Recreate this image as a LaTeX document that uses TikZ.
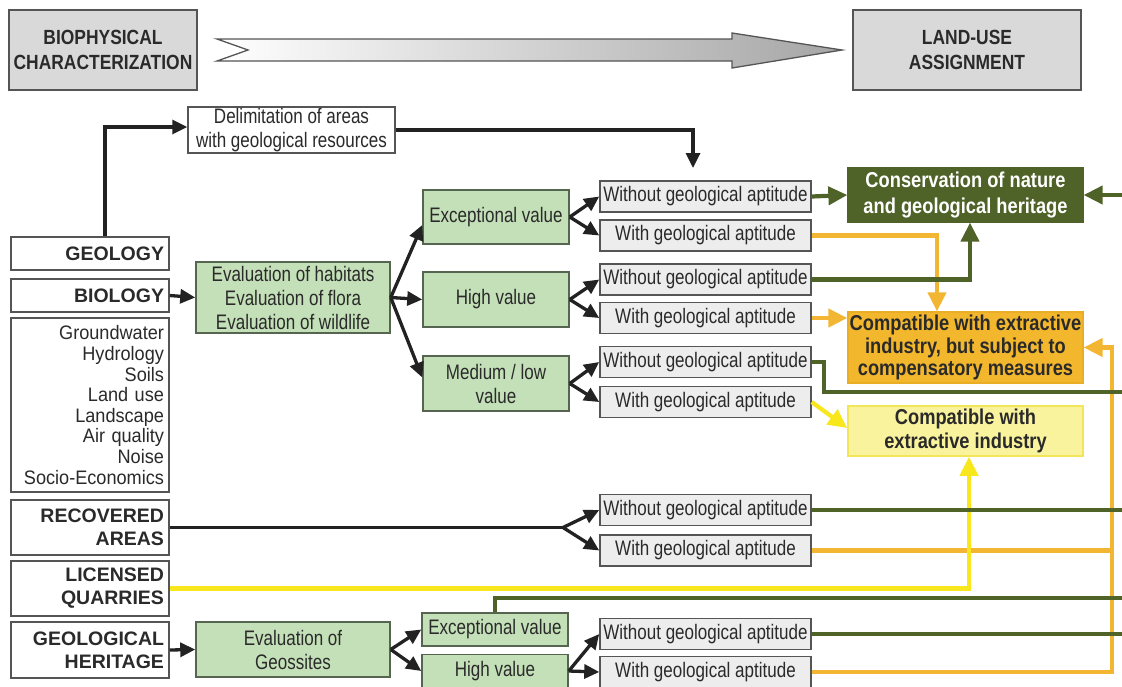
\documentclass[tikz,border=0pt]{standalone}
\usepackage{fontspec}
\setmainfont{Liberation Sans}
\newfontfamily\nar[FakeStretch=0.81]{Liberation Sans}
\newfontfamily\narl[FakeStretch=0.93]{Liberation Sans}
\newfontfamily\narh[FakeStretch=0.85]{Liberation Sans}
\usetikzlibrary{arrows.meta}
\definecolor{txt}{HTML}{2A2A2A}
\definecolor{bordg}{HTML}{555555}
\definecolor{hdrfill}{HTML}{D9D9D9}
\definecolor{grayfill}{HTML}{EDEDED}
\definecolor{grnfill}{HTML}{C4E0B8}
\definecolor{grnbord}{HTML}{55654F}
\definecolor{olive}{HTML}{4F6228}
\definecolor{orng}{HTML}{F3B72E}
\definecolor{orngb}{HTML}{E9AE25}
\definecolor{orngline}{HTML}{F2B632}
\definecolor{paley}{HTML}{FAF39E}
\definecolor{paleyb}{HTML}{F2E55A}
\definecolor{yel}{HTML}{F8E71C}
\definecolor{blk}{HTML}{222222}
\begin{document}
\begin{tikzpicture}[x=1pt,y=-1pt,inner sep=0pt,
  hdr/.style={draw=bordg,line width=1.5pt,fill=hdrfill,text=txt,align=center,
    font=\narh\bfseries\fontsize{20.5}{25}\selectfont},
  wbox/.style={draw=bordg,line width=1.5pt,fill=white,text=txt,align=center,
    font=\nar\fontsize{21}{24}\selectfont},
  lab/.style={draw=bordg,line width=1.5pt,fill=white,text=txt,align=right,
    text width=148pt,inner xsep=5pt,minimum width=158pt,
    font=\bfseries\fontsize{19.5}{23}\selectfont},
  listbox/.style={draw=bordg,line width=1.5pt,fill=white,text=txt,align=right,
    text width=148pt,inner xsep=5pt,minimum width=158pt,
    font=\narl\fontsize{19.5}{20.6}\selectfont},
  gbox/.style={draw=grnbord,line width=1.5pt,fill=grnfill,text=txt,align=center,
    font=\nar\fontsize{21}{24}\selectfont},
  gybox/.style={draw=bordg,line width=1.5pt,fill=grayfill,text=txt,align=center,
    minimum width=211pt,minimum height=31pt,font=\nar\fontsize{21}{24}\selectfont},
  consv/.style={draw=olive,line width=1.3pt,fill=olive,text=white,align=center,
    minimum width=235pt,font=\narh\bfseries\fontsize{21.5}{26}\selectfont},
  orbox/.style={draw=orngb,line width=1.3pt,fill=orng,text=txt,align=center,
    minimum width=235pt,font=\narh\bfseries\fontsize{21.5}{22.5}\selectfont},
  pybox/.style={draw=paleyb,line width=1.5pt,fill=paley,text=txt,align=center,
    minimum width=235pt,font=\narh\bfseries\fontsize{21.5}{24}\selectfont},
  blkarr/.style={draw=blk,line width=3.3pt,-{Triangle[length=15pt,width=14pt]}},
  blkline/.style={draw=blk,line width=3.3pt},
  grnarr/.style={draw=olive,line width=4.2pt,-{Triangle[length=19pt,width=18pt]}},
  grnline/.style={draw=olive,line width=4.2pt},
  orarr/.style={draw=orngline,line width=4.2pt,-{Triangle[length=19pt,width=18pt]}},
  orline/.style={draw=orngline,line width=4.2pt},
  yelarr/.style={draw=yel,line width=4.2pt,-{Triangle[length=19pt,width=18pt]}},
  yelline/.style={draw=yel,line width=4.2pt}]
\useasboundingbox[fill=white] (0,0) rectangle (1122,686);

% header
\node[hdr,minimum width=188pt,minimum height=80pt] (bioc) at (103,50) {BIOPHYSICAL\\CHARACTERIZATION};
\node[hdr,minimum width=228pt,minimum height=80pt] (land) at (967,50) {LAND-USE\\ASSIGNMENT};
\path[draw=bordg,line width=1.3pt,left color=white,right color=gray!70]
  (217,39) -- (732,39) -- (732,33) -- (842,50) -- (732,68) -- (732,61) -- (217,61) -- (248,50) -- cycle;

% left column
\node[wbox,minimum width=207pt,minimum height=46pt] (delim) at (291.5,130) {Delimitation of areas\\with geological resources};
\node[lab,minimum height=33pt] (geology) at (90,253.5) {GEOLOGY};
\node[lab,minimum height=33pt] (biology) at (90,295.5) {BIOLOGY};
\node[listbox,minimum height=174pt] (list) at (90,405) {Groundwater\\Hydrology\\Soils\\Land use\\Landscape\\Air quality\\Noise\\Socio-Economics};
\node[lab,minimum height=55pt] (recovered) at (90,527.5) {RECOVERED\\AREAS};
\node[lab,minimum height=55pt] (licensed) at (90,588.5) {LICENSED\\QUARRIES};
\node[lab,minimum height=56pt] (geoher) at (90,650) {GEOLOGICAL\\HERITAGE};

% green boxes
\node[gbox,minimum width=194pt,minimum height=71pt] (evalbio) at (293,297.5) {Evaluation of habitats\\Evaluation of flora\\Evaluation of wildlife};
\node[gbox,minimum width=146pt,minimum height=54pt] (exc1) at (496,217) {Exceptional value};
\node[gbox,minimum width=146pt,minimum height=55pt] (high1) at (496,299.5) {High value};
\node[gbox,minimum width=146pt,minimum height=55pt] (med1) at (496,383.5) {Medium / low\\value};
\node[gbox,minimum width=194pt,minimum height=55pt] (geosites) at (293,649.5) {Evaluation of\\Geossites};
\node[gbox,minimum width=146pt,minimum height=33pt] (exc2) at (495,629.5) {Exceptional value};
\node[gbox,minimum width=146pt,minimum height=33pt] (high2) at (495,671) {High value};

% gray boxes
\node[gybox] (wo1) at (705.5,196.5) {Without geological aptitude};
\node[gybox] (w1) at (705.5,235.5) {With geological aptitude};
\node[gybox] (wo2) at (705.5,279.5) {Without geological aptitude};
\node[gybox] (w2) at (705.5,318) {With geological aptitude};
\node[gybox] (wo3) at (705.5,362) {Without geological aptitude};
\node[gybox] (w3) at (705.5,402) {With geological aptitude};
\node[gybox] (wo4) at (705.5,510) {Without geological aptitude};
\node[gybox] (w4) at (705.5,550.5) {With geological aptitude};
\node[gybox] (wo5) at (705.5,634) {Without geological aptitude};
\node[gybox] (w5) at (705.5,672) {With geological aptitude};

% outcome boxes
\node[consv,minimum height=54pt] (consv) at (965.5,195) {Conservation of nature\\and geological heritage};
\node[orbox,minimum height=71pt] (orange) at (965.5,347.5) {Compatible with extractive\\industry, but subject to\\compensatory measures};
\node[pybox,minimum height=50pt] (pale) at (965.5,431) {Compatible with\\extractive industry};

% helper coordinates
\coordinate (dtip) at (693,168);
\coordinate (redge) at (1122,0);
\coordinate (oright) at (1112,0);
\coordinate (rfork) at (563,527.5);
\coordinate (e3) at (1122,392);
\coordinate (g6) at (1122,598);

% black connectors
\draw[blkarr] ([xshift=15pt]geology.north) |- ([yshift=3pt]delim.west);
\draw[blkarr] (delim.east) -| (dtip);
\draw[blkarr] (biology.east) -- (evalbio.west);
\draw[blkarr] (evalbio.east) -- ([yshift=-8pt]exc1.west);
\draw[blkarr] (evalbio.east) -- (high1.west);
\draw[blkarr] (evalbio.east) -- ([yshift=6pt]med1.west);
\foreach \a/\b/\c in {exc1/wo1/w1,high1/wo2/w2,med1/wo3/w3}{
  \draw[blkarr] (\a.east) -- (\b.west);
  \draw[blkarr] (\a.east) -- (\c.west);
}
\draw[blkline] (recovered.east) -- (rfork);
\draw[blkarr] (rfork) -- (wo4.west);
\draw[blkarr] (rfork) -- (w4.west);
\draw[blkarr] (geoher.east) -- (geosites.west);
\draw[blkarr] (geosites.east) -- (exc2.west);
\draw[blkarr] (geosites.east) -- (high2.west);
\draw[blkarr] (high2.east) -- (wo5.west);
\draw[blkarr] (high2.east) -- (w5.west);

% orange connectors
\draw[orarr] (w1.east) -| ([xshift=-28.5pt]orange.north);
\draw[orarr] (w2.east) -- (orange.west |- w2.east);
\draw[orarr] (w5.east) -- (w5.east -| oright) |- (orange.east);
\draw[orline] (w4.east) -- (w4.east -| oright);

% yellow connectors
\draw[yelarr] (w3.east) -- ([yshift=3pt]pale.west);
\draw[yelarr] (licensed.east) -| ([xshift=3.5pt]pale.south);

% green connectors
\draw[grnarr] (wo1.east) -- (consv.west);
\draw[grnarr] (wo2.east) -| ([xshift=4.5pt]consv.south);
\draw[grnline] (wo3.east) -- ++(12,0) |- (e3);
\draw[grnline] (wo4.east) -- (wo4.east -| redge);
\draw[grnline] (wo5.east) -- (wo5.east -| redge);
\draw[grnline] (exc2.north) |- (g6);
\draw[grnarr] (consv.east -| redge) -- (consv.east);
\end{tikzpicture}
\end{document}
